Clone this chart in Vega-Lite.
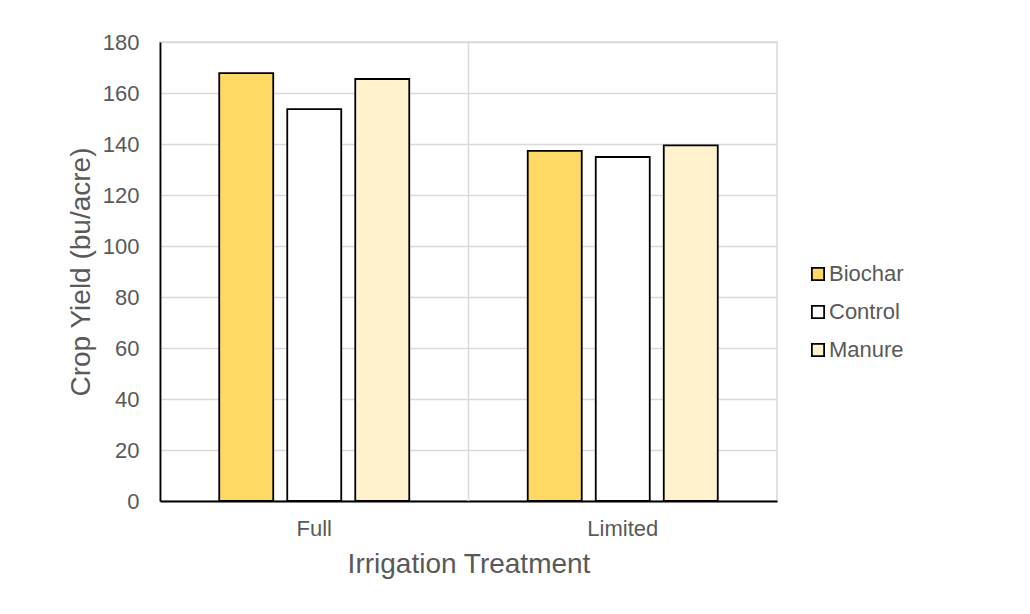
{
  "$schema": "https://vega.github.io/schema/vega-lite/v6.json",
  "width": 617,
  "height": 459,
  "autosize": "none",
  "padding": {"left": 160, "top": 42, "right": 253, "bottom": 113},
  "background": "white",
  "config": {
    "font": "Liberation Sans",
    "view": {"stroke": "#d9d9d9", "strokeWidth": 1.5},
    "axis": {"labelColor": "#595959", "titleColor": "#595959", "labelFont": "Liberation Sans", "titleFont": "Liberation Sans", "titleFontWeight": "normal"}
  },
  "datasets": {
    "yields": [
      {"treatment": "Full", "amendment": "Biochar", "yield": 167.8},
      {"treatment": "Full", "amendment": "Control", "yield": 153.7},
      {"treatment": "Full", "amendment": "Manure", "yield": 165.5},
      {"treatment": "Limited", "amendment": "Biochar", "yield": 137.3},
      {"treatment": "Limited", "amendment": "Control", "yield": 134.9},
      {"treatment": "Limited", "amendment": "Manure", "yield": 139.5}
    ],
    "bounds": [{"treatment": "Limited"}]
  },
  "layer": [
    {
      "data": {"name": "bounds"},
      "mark": {"type": "rule", "color": "#d9d9d9", "strokeWidth": 1.5},
      "encoding": {
        "x": {"field": "treatment", "type": "nominal", "bandPosition": 0, "scale": {"domain": ["Full", "Limited"]}}
      }
    },
    {
      "data": {"name": "yields"},
      "mark": {"type": "bar", "stroke": "black", "strokeWidth": 1.8},
      "encoding": {
        "x": {
          "field": "treatment", "type": "nominal",
          "scale": {"domain": ["Full", "Limited"], "paddingInner": 0, "paddingOuter": 0},
          "axis": {"title": "Irrigation Treatment", "labelAngle": 0, "labelAlign": "center", "bandPosition": 0.5, "labelFontSize": 22, "titleFontSize": 28, "ticks": false, "domainColor": "black", "domainWidth": 1.8, "labelPadding": 27, "titlePadding": 11, "grid": false}
        },
        "xOffset": {
          "field": "amendment", "type": "nominal",
          "scale": {"paddingInner": 0.206, "paddingOuter": 0.871}
        },
        "y": {
          "field": "yield", "type": "quantitative",
          "scale": {"domain": [0, 180], "nice": false},
          "axis": {"title": "Crop Yield (bu/acre)", "values": [0, 20, 40, 60, 80, 100, 120, 140, 160, 180], "labelFontSize": 22, "titleFontSize": 28, "ticks": false, "domainColor": "black", "domainWidth": 1.8, "labelPadding": 21, "titlePadding": 7, "gridColor": "#d9d9d9", "gridWidth": 1.5}
        },
        "fill": {
          "field": "amendment", "type": "nominal",
          "scale": {"domain": ["Biochar", "Control", "Manure"], "range": ["#FFD966", "#FFFFFF", "#FFF2CC"]},
          "legend": {"title": null, "orient": "none", "legendX": 647, "legendY": 221, "labelFontSize": 22, "labelColor": "#595959", "symbolType": "square", "symbolSize": 150, "symbolStrokeColor": "black", "symbolStrokeWidth": 1.8, "rowPadding": 16, "labelOffset": 0}
        }
      }
    }
  ]
}
